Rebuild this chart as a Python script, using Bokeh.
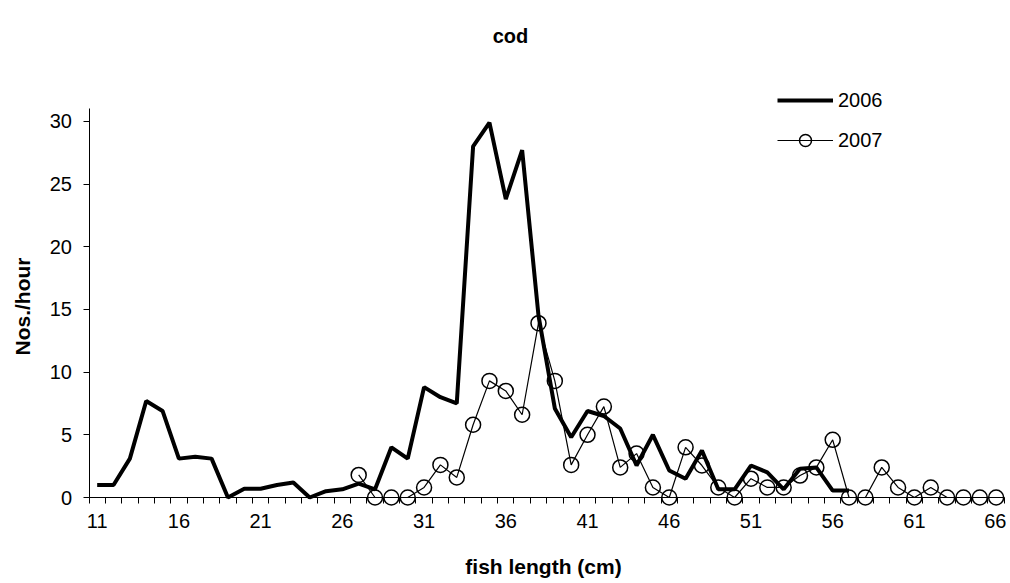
from bokeh.plotting import figure
from bokeh.models import Range1d, FixedTicker, Label, Legend, LegendItem
from bokeh.embed import file_html
from bokeh.resources import INLINE

# ---- data ----
length_2006 = list(range(11, 58))
catch_2006 = [1.0, 1.0, 3.1, 7.7, 6.9, 3.1, 3.25, 3.1, 0.0, 0.7,
              0.7, 1.0, 1.2, 0.0, 0.5, 0.65, 1.1, 0.65, 4.0, 3.1,
              8.8, 8.0, 7.5, 28.0, 29.9, 23.8, 27.7, 14.5, 7.1, 4.8,
              6.9, 6.5, 5.5, 2.55, 5.0, 2.15, 1.5, 3.75, 0.65, 0.65,
              2.55, 2.0, 0.65, 2.3, 2.4, 0.55, 0.55]

length_2007 = list(range(27, 67))
catch_2007 = [1.8, 0.0, 0.0, 0.0, 0.8, 2.6, 1.6, 5.8, 9.3, 8.5,
              6.6, 13.9, 9.3, 2.6, 5.0, 7.25, 2.4, 3.5, 0.8, 0.0,
              4.0, 2.55, 0.8, 0.0, 1.5, 0.8, 0.8, 1.75, 2.4, 4.6,
              0.0, 0.0, 2.4, 0.8, 0.0, 0.8, 0.0, 0.0, 0.0, 0.0]

x_tick_labels = [11, 16, 21, 26, 31, 36, 41, 46, 51, 56, 61, 66]
y_ticks = [0, 5, 10, 15, 20, 25, 30]

FONT = "Liberation Sans"
W, H = 1006, 581
X0_PX, Y0_PX = 88.5, 497        # canvas pixel of (10.5, 0)
XS, YS = 16.345, 12.54          # pixels per unit
Y_TOP = (Y0_PX - 108) / YS      # top of value axis

x_start = 10.5 - X0_PX / XS
y_end = Y0_PX / YS
p = figure(width=W, height=H,
           x_range=Range1d(x_start, x_start + W / XS),
           y_range=Range1d(y_end - H / YS, y_end),
           output_backend="svg", toolbar_location=None,
           min_border_left=0, min_border_right=0,
           min_border_top=0, min_border_bottom=0)
p.outline_line_color = None
p.xgrid.visible = False
p.ygrid.visible = False
p.background_fill_color = "white"
p.border_fill_color = "white"

# x axis (category-like: tick marks between categories)
xa = p.xaxis[0]
xa.fixed_location = 0
xa.bounds = (10.5, 66.5)
xa.ticker = FixedTicker(ticks=x_tick_labels,
                        minor_ticks=[c - 0.5 for c in range(11, 68)])
xa.major_tick_out = 0
xa.major_tick_in = 0
xa.minor_tick_out = 6
xa.minor_tick_in = 0
xa.minor_tick_line_color = "black"
xa.axis_line_color = "black"
xa.major_label_standoff = 10
xa.major_label_text_font = FONT
xa.major_label_text_font_size = "20px"
xa.major_label_text_color = "black"

ya = p.yaxis[0]
ya.fixed_location = 10.5
ya.bounds = (0, Y_TOP)
ya.ticker = FixedTicker(ticks=y_ticks, minor_ticks=[])
ya.axis_line_color = "black"
ya.major_tick_out = 6
ya.major_tick_in = 0
ya.major_tick_line_color = "black"
ya.minor_tick_out = 0
ya.minor_tick_in = 0
ya.major_label_standoff = 11
ya.major_label_text_font = FONT
ya.major_label_text_font_size = "20px"
ya.major_label_text_color = "black"

r1 = p.line(length_2006, catch_2006, line_color="black", line_width=4)
r2l = p.line(length_2007, catch_2007, line_color="black", line_width=1.2)
r2s = p.scatter(length_2007, catch_2007, marker="circle", size=15,
                line_color="black", line_width=1.5, fill_color=None)

legend = Legend(items=[LegendItem(label="2006", renderers=[r1]),
                       LegendItem(label="2007", renderers=[r2l, r2s])],
                location=(777, H - 155), orientation="vertical",
                padding=0, margin=0, spacing=10,
                glyph_width=56, glyph_height=30, label_height=30,
                label_standoff=5,
                label_text_font=FONT, label_text_font_size="20px",
                label_text_color="black",
                border_line_color=None, background_fill_alpha=0)
p.add_layout(legend, "center")

p.add_layout(Label(x=510, y=H - 35, x_units="screen", y_units="screen", text="cod",
                   text_font=FONT, text_font_style="bold", text_font_size="20px",
                   text_align="center", text_baseline="alphabetic", text_color="black"))
p.add_layout(Label(x=543, y=H - 566, x_units="screen", y_units="screen", text="fish length (cm)",
                   text_font=FONT, text_font_style="bold", text_font_size="21px",
                   text_align="center", text_baseline="alphabetic", text_color="black"))
p.add_layout(Label(x=22, y=H - 306, x_units="screen", y_units="screen", text="Nos./hour",
                   angle=90, angle_units="deg",
                   text_font=FONT, text_font_style="bold", text_font_size="21px",
                   text_align="center", text_baseline="middle", text_color="black"))

open("out.html", "w").write(file_html(p, INLINE))
